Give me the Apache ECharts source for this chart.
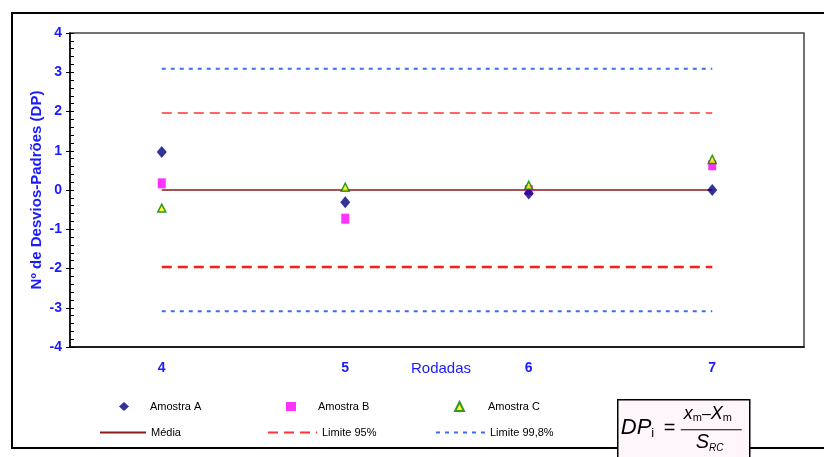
<!DOCTYPE html>
<html><head><meta charset="utf-8">
<script src="https://cdn.jsdelivr.net/npm/echarts@6/dist/echarts.min.js"></script>
<style>html,body{margin:0;padding:0;background:#fff}#c{width:824px;height:457px}</style>
</head><body><div id="c"></div>
<script>
var categories = ['4', '5', '6', '7'];
var amostraA = [0.97, -0.31, -0.09, 0.0];
var amostraB = [0.17, -0.73, 0.0, 0.63];
var amostraC = [-0.46, 0.07, 0.12, 0.78];
var media = [0, 0, 0, 0];
var lim95 = 1.96;
var lim998 = 3.09;
var yMin = -4, yMax = 4, yStep = 1;

function flat(v){ return categories.map(function(){ return v; }); }

var chart = echarts.init(document.getElementById('c'));
var font = 'Liberation Sans, Arial, sans-serif';
var blue = '#1a1aff';
var limBlue = '#3c6cf0';
var legText = {color:'#000', fontSize:11, fontFamily:font};

function leg(name, left, top, icon, w, pad, isLine){
  var o = {data:[{name:name}], left:left, top:top, itemWidth:w, itemHeight:isLine?10:9, itemGap:0,
    textStyle:Object.assign({padding:[0,0,0,pad]}, legText), selectedMode:false, padding:0};
  if (icon) o.data[0].icon = icon;
  if (isLine) o.itemStyle = {opacity:0};
  return o;
}

chart.setOption({
  animation:false,
  backgroundColor:'#fff',
  grid:{left:70, top:33, right:20, bottom:110, show:true, borderColor:'#444', borderWidth:1.5},
  xAxis:{type:'category', data:categories, boundaryGap:true,
    axisLine:{onZero:false, lineStyle:{color:'#000', width:1.5}},
    axisTick:{inside:true, length:5, lineStyle:{color:'#000'}},
    axisLabel:{color:blue, fontSize:14, fontWeight:'bold', fontFamily:font, margin:14},
    name:'Rodadas', nameLocation:'middle', nameGap:14, nameMoveOverlap:false,
    nameTextStyle:{color:blue, fontSize:15, fontFamily:font, padding:[0,0,0,8]}
  },
  yAxis:[{type:'value', min:yMin, max:yMax, interval:yStep,
    axisLine:{show:true, lineStyle:{color:'#000', width:1.5}},
    axisTick:{show:true, length:4, lineStyle:{color:'#000'}},
    splitLine:{show:false},
    axisLabel:{color:blue, fontSize:14, fontWeight:'bold', fontFamily:font, margin:8},
    name:'Nº de Desvios-Padrões (DP)', nameLocation:'middle', nameGap:26, nameRotate:90, nameMoveOverlap:false,
    nameTextStyle:{color:blue, fontSize:15, fontWeight:'bold', fontFamily:font}
  },{type:'value', min:yMin, max:yMax, interval:yStep, position:'left',
    axisLine:{show:false},
    axisTick:{show:true, inside:true, length:4, lineStyle:{color:'#000'}},
    minorTick:{show:true, splitNumber:5, length:4, lineStyle:{color:'#000'}},
    splitLine:{show:false}, axisLabel:{show:false}
  }],
  legend:[
    leg('Amostra A', 119, 401, 'diamond', 10, 16, false),
    leg('Amostra B', 286, 401, 'rect', 10, 17, false),
    leg('Amostra C', 454, 401, 'triangle', 9, 19, false),
    leg('Média', 99, 427, null, 46, 0, true),
    leg('Limite 95%', 267, 427, null, 49, 0, true),
    leg('Limite 99,8%', 435, 427, null, 49, 0, true)
  ],
  series:[
    {name:'Média', type:'line', data:media, symbol:'none', lineStyle:{color:'#8b1a1a', width:1.5}, itemStyle:{color:'#8b1a1a'}, z:1},
    {name:'Limite 95%', type:'line', data:flat(lim95), symbol:'none', lineStyle:{color:'#ff3333', width:1.5, type:[10,6]}, itemStyle:{color:'#ff3333'}, z:1},
    {name:'Limite 95%', type:'line', data:flat(-lim95), symbol:'none', lineStyle:{color:'#ff1a1a', width:2.5, type:[10,6]}, itemStyle:{color:'#ff1a1a'}, z:1},
    {name:'Limite 99,8%', type:'line', data:flat(lim998), symbol:'none', lineStyle:{color:limBlue, width:2, type:[4,5]}, itemStyle:{color:limBlue}, z:1},
    {name:'Limite 99,8%', type:'line', data:flat(-lim998), symbol:'none', lineStyle:{color:limBlue, width:2, type:[4,5]}, itemStyle:{color:limBlue}, z:1},
    {name:'Amostra A', type:'scatter', data:amostraA, symbol:'diamond', symbolSize:[10,12], itemStyle:{color:'#000080'}, z:3},
    {name:'Amostra B', type:'scatter', data:amostraB, symbol:'rect', symbolSize:[8,10], itemStyle:{color:'#ff00ff'}, z:2},
    {name:'Amostra C', type:'scatter', data:amostraC, symbol:'triangle', symbolSize:[8,8], itemStyle:{color:'#ffff00', borderColor:'#008000', borderWidth:1.5}, z:4}
  ],
  graphic:[
    {type:'rect', shape:{x:12, y:13, width:830, height:435}, style:{fill:null, stroke:'#000', lineWidth:2}, z:-1, silent:true},
    {type:'group', left:617, top:399, z:100, children:[
      {type:'rect', shape:{x:0, y:0, width:132, height:70}, style:{fill:'#fff6fb', stroke:'#000', lineWidth:1.5}},
      {type:'text', x:3, y:17, style:{text:'{a|DP}{s|i}', rich:{a:{fontSize:22, fontStyle:'italic', fontFamily:font, fill:'#000'}, s:{fontSize:13, fontFamily:font, fill:'#000', padding:[10,0,0,0]}}}},
      {type:'text', x:46, y:19, style:{text:'=', fontSize:20, fontFamily:font, fill:'#000'}},
      {type:'text', x:66, y:5, style:{text:'{a|x}{s|m}{o|–}{a|X}{s|m}', rich:{a:{fontSize:18, fontStyle:'italic', fontFamily:font, fill:'#000'}, s:{fontSize:11, fontFamily:font, fill:'#000', padding:[8,0,0,0]}, o:{fontSize:16, fontFamily:font, fill:'#000'}}}},
      {type:'line', shape:{x1:63, y1:30, x2:124, y2:30}, style:{stroke:'#000', lineWidth:1.2}},
      {type:'text', x:78, y:33, style:{text:'{a|S}{s|RC}', rich:{a:{fontSize:20, fontStyle:'italic', fontFamily:font, fill:'#000'}, s:{fontSize:10, fontStyle:'italic', fontFamily:font, fill:'#000', padding:[10,0,0,0]}}}}
    ]}
  ]
});
</script></body></html>
